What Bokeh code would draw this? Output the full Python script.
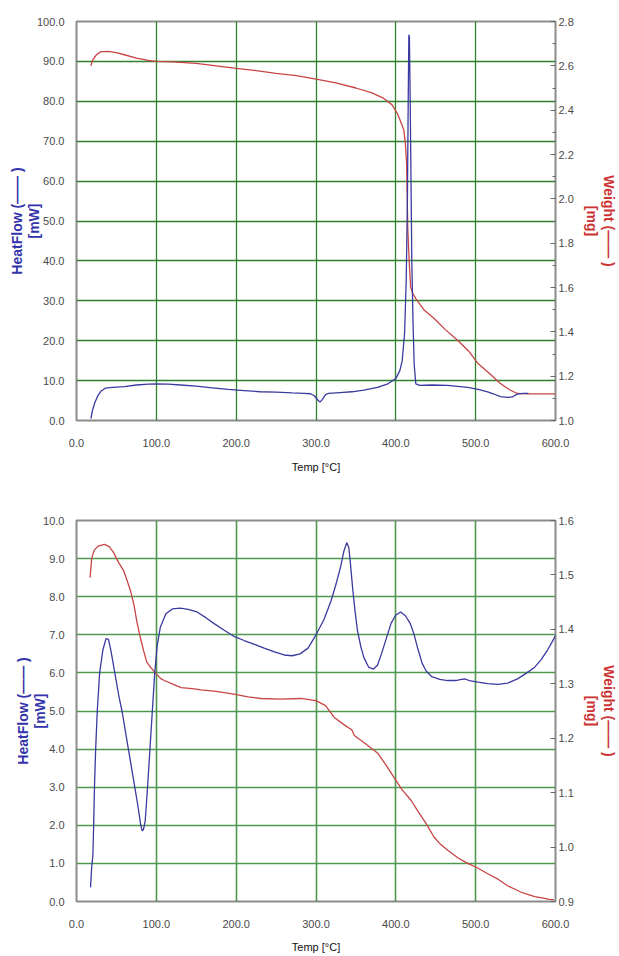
from bokeh.plotting import figure
from bokeh.models import Range1d, LinearAxis, FixedTicker, PrintfTickFormatter
from bokeh.layouts import column
from bokeh.embed import file_html
from bokeh.resources import INLINE

# ---------------- data: top chart ----------------
top_hf_temp = [18, 20, 23, 27, 31, 36, 45, 60, 75, 90, 100, 115, 130, 150, 170, 190, 210, 230,
               250, 270, 285, 293, 298, 302, 305, 308, 312, 316, 330, 345, 360, 377, 390, 400,
               405, 408, 411, 413, 414.5, 415.5, 416.3, 417, 418, 419, 420, 421.5, 423, 425,
               430, 445, 465, 490, 503, 515, 522, 531, 540, 546, 552, 560, 566]
top_hf_mw = [0.5, 2.5, 4.5, 6.3, 7.4, 8.1, 8.3, 8.5, 8.9, 9.1, 9.2, 9.1, 8.9, 8.6, 8.2, 7.8, 7.5, 7.2,
             7.1, 6.9, 6.8, 6.7, 6.2, 5.2, 4.6, 5.3, 6.5, 6.8, 7.0, 7.2, 7.6, 8.3, 9.2, 10.5,
             12.5, 15.0, 22.0, 35.0, 55.0, 80.0, 96.7, 96.0, 80.0, 60.0, 40.0, 25.0, 14.0, 9.2,
             8.8, 8.9, 8.8, 8.3, 7.8, 7.2, 6.7, 6.0, 5.8, 5.9, 6.6, 6.8, 6.8]

top_w_temp = [18, 20, 25, 30, 40, 50, 60, 75, 90, 100, 120, 150, 175, 200, 225, 250, 275, 300,
              325, 350, 370, 385, 395, 402, 407, 410, 412, 413.5, 415, 417, 418.6, 421, 425,
              435, 448, 462, 478, 492, 503, 518, 531, 542, 552, 565, 600]
top_w_mg = [2.600, 2.625, 2.650, 2.663, 2.665, 2.660, 2.650, 2.635, 2.625, 2.620, 2.618, 2.611,
            2.600, 2.589, 2.578, 2.566, 2.556, 2.540, 2.523, 2.500, 2.478, 2.453, 2.425, 2.385,
            2.340, 2.310, 2.250, 2.160, 1.860, 1.700, 1.600, 1.575, 1.550, 1.500, 1.460, 1.410,
            1.360, 1.310, 1.257, 1.210, 1.167, 1.140, 1.122, 1.120, 1.120]

# ---------------- data: bottom chart ----------------
bot_hf_temp = [17.6, 19, 20.5, 21.5, 22.5, 24, 26, 29, 33, 37, 40, 43, 48, 53, 57, 61, 65, 69, 73,
               77, 80.5, 82.5, 84, 86, 89, 92, 95, 98, 101, 105, 112, 120, 130, 140, 151, 162,
               172, 185, 198, 210, 223, 235, 248, 260, 270, 280, 290, 300, 310, 319, 326, 331,
               335, 338.5, 341, 343, 346, 349, 352, 356, 360, 366, 372, 377, 382, 388, 394, 400,
               406, 412, 418, 423, 428, 433, 438, 445, 455, 465, 475, 482, 487, 492, 503, 515,
               528, 540, 553, 564, 574, 582, 590, 596, 600]
bot_hf_mw = [0.37, 0.9, 1.2, 2.0, 3.0, 4.0, 5.0, 6.0, 6.6, 6.9, 6.88, 6.6, 6.0, 5.4, 5.0, 4.5, 4.0,
             3.5, 3.0, 2.5, 2.0, 1.85, 1.9, 2.1, 3.0, 4.0, 5.0, 6.0, 6.7, 7.2, 7.55, 7.68, 7.7,
             7.67, 7.6, 7.45, 7.3, 7.12, 6.95, 6.85, 6.75, 6.65, 6.55, 6.47, 6.45, 6.5, 6.65, 7.0,
             7.4, 7.9, 8.4, 8.8, 9.2, 9.42, 9.3, 8.9, 8.2, 7.6, 7.1, 6.7, 6.4, 6.15, 6.1, 6.2, 6.5,
             6.9, 7.3, 7.52, 7.6, 7.5, 7.3, 7.0, 6.6, 6.25, 6.05, 5.9, 5.83, 5.8, 5.8, 5.83, 5.84,
             5.8, 5.76, 5.72, 5.7, 5.73, 5.85, 6.0, 6.15, 6.35, 6.6, 6.82, 6.98]

bot_w_temp = [17, 19, 22, 27, 35, 41, 46.5, 53, 59, 64, 67.6, 72, 76, 80, 84, 88, 93, 99, 105,
              110, 120, 131, 145, 156, 175, 197, 215, 231, 255, 281, 300, 312, 323, 335, 345,
              348, 362, 377, 388, 398, 408, 419, 428, 438, 448, 456, 465, 478, 490, 502, 515,
              528, 540, 550, 557, 565, 574, 585, 592, 598]
bot_w_mg = [1.495, 1.530, 1.545, 1.553, 1.556, 1.552, 1.541, 1.522, 1.508, 1.487, 1.471, 1.445,
            1.411, 1.385, 1.361, 1.340, 1.330, 1.320, 1.310, 1.306, 1.300, 1.293, 1.291, 1.289,
            1.286, 1.281, 1.276, 1.273, 1.272, 1.273, 1.269, 1.260, 1.238, 1.225, 1.215, 1.205,
            1.190, 1.173, 1.150, 1.127, 1.105, 1.086, 1.065, 1.043, 1.018, 1.005, 0.994, 0.980,
            0.970, 0.962, 0.951, 0.941, 0.929, 0.922, 0.917, 0.913, 0.909, 0.906, 0.904, 0.9035]

# ---------------- axis ticks ----------------
x_ticks = [0, 100, 200, 300, 400, 500, 600]
top_hf_ticks = [0, 10, 20, 30, 40, 50, 60, 70, 80, 90, 100]
top_w_ticks = [1.0, 1.2, 1.4, 1.6, 1.8, 2.0, 2.2, 2.4, 2.6, 2.8]
top_w_minor = [1.1, 1.3, 1.5, 1.7, 1.9, 2.1, 2.3, 2.5, 2.7]
bot_hf_ticks = [0, 1, 2, 3, 4, 5, 6, 7, 8, 9, 10]
bot_w_ticks = [0.9, 1.0, 1.1, 1.2, 1.3, 1.4, 1.5, 1.6]

x_title = "Temp [°C]"
hf_title = "HeatFlow (—— )\n[mW]"
w_title = "Weight (—— )\n[mg]"

FONT = "Liberation Sans"
BLUE = "#3a3aa0"
RED = "#c84444"
TICK_COL = "#4a4a4a"


def style_labels(ax, standoff):
    ax.major_label_standoff = standoff
    ax.major_label_text_font = FONT
    ax.major_label_text_font_size = "11px"
    ax.major_label_text_color = TICK_COL
    ax.axis_label_text_font = FONT
    ax.axis_label_text_font_style = "bold"
    ax.axis_label_text_font_size = "14px"
    ax.axis_label_text_line_height = 1.05


def make_chart(height, mb_top, mb_bottom, y_max, w_min, w_max, hf_ticks, w_ticks, w_minor,
               hf_t, hf_v, w_t, w_v, grid_col, grid_w, x_lab_std):
    p = figure(width=619, height=height, x_range=Range1d(0, 600), y_range=Range1d(0, y_max),
               output_backend="svg", toolbar_location=None,
               min_border_left=76, min_border_right=64,
               min_border_top=mb_top, min_border_bottom=mb_bottom)
    p.extra_y_ranges = {"w": Range1d(w_min, w_max)}
    p.background_fill_color = "white"
    p.border_fill_color = "white"
    p.outline_line_color = "#8c8c8c"
    p.outline_line_width = 2

    # left axis
    la = p.left[0]
    la.ticker = FixedTicker(ticks=hf_ticks)
    la.formatter = PrintfTickFormatter(format="%.1f")
    la.axis_line_color = None
    la.major_tick_line_color = None
    la.minor_tick_line_color = None
    style_labels(la, 6)
    la.axis_label = hf_title
    la.axis_label_text_color = "#3333aa"
    la.axis_label_standoff = -8

    # bottom axis
    ba = p.below[0]
    ba.ticker = FixedTicker(ticks=x_ticks)
    ba.formatter = PrintfTickFormatter(format="%.1f")
    ba.axis_line_color = None
    ba.major_tick_line_color = None
    ba.minor_tick_line_color = None
    style_labels(ba, 12)
    ba.axis_label = x_title
    ba.axis_label_text_color = "#111111"
    ba.axis_label_text_font_style = "normal"
    ba.axis_label_text_font_size = "11px"
    ba.axis_label_text_line_height = 1.2
    ba.axis_label_standoff = x_lab_std

    # right axis
    ra = LinearAxis(y_range_name="w", ticker=FixedTicker(ticks=w_ticks, minor_ticks=w_minor))
    ra.formatter = PrintfTickFormatter(format="%.1f")
    ra.axis_line_color = None
    ra.major_tick_in = 5
    ra.major_tick_out = 0
    ra.minor_tick_in = 3
    ra.minor_tick_out = 0
    ra.major_tick_line_color = "#666666"
    ra.minor_tick_line_color = "#666666"
    style_labels(ra, 3)
    ra.axis_label = w_title
    ra.axis_label_text_color = "#cc3333"
    ra.axis_label_standoff = 7
    p.add_layout(ra, "right")

    # grid
    p.xgrid.ticker = FixedTicker(ticks=x_ticks)
    p.ygrid.ticker = FixedTicker(ticks=hf_ticks)
    for g in (p.xgrid, p.ygrid):
        g.grid_line_color = grid_col
        g.grid_line_width = grid_w
        g.grid_line_alpha = 1.0

    # curves
    p.line(w_t, w_v, y_range_name="w", line_color=RED, line_width=1.3)
    p.line(hf_t, hf_v, line_color=BLUE, line_width=1.3)
    return p


top = make_chart(490, 21, 70, 100, 1.0, 2.8, top_hf_ticks, top_w_ticks, top_w_minor,
                 top_hf_temp, top_hf_mw, top_w_temp, top_w_mg, "#2f812f", 1.3, 11)
bottom = make_chart(465, 30, 54, 10, 0.9, 1.6, bot_hf_ticks, bot_w_ticks, [],
                    bot_hf_temp, bot_hf_mw, bot_w_temp, bot_w_mg, "#4f974f", 1.6, 10)

layout = column(top, bottom, spacing=0)
open("out.html", "w").write(file_html(layout, INLINE))
